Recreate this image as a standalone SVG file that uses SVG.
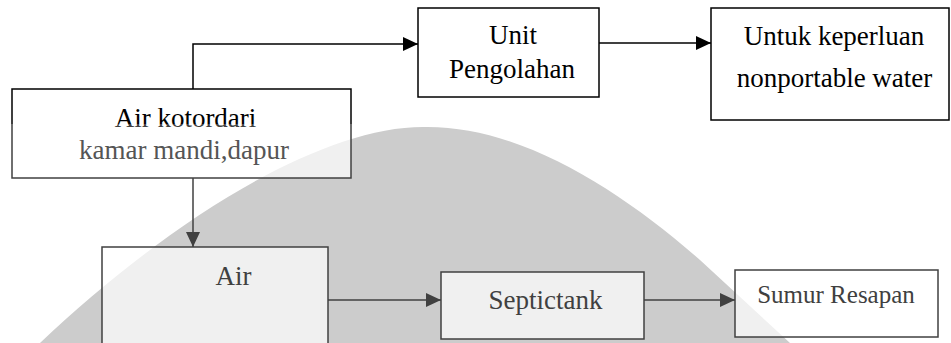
<svg xmlns="http://www.w3.org/2000/svg" width="951" height="343" viewBox="0 0 951 343">
  <defs>
    <linearGradient id="split" gradientUnits="userSpaceOnUse" x1="0" y1="0" x2="0" y2="343">
      <stop offset="0.3615" stop-color="#000"/>
      <stop offset="0.3615" stop-color="#404040"/>
    </linearGradient>
    <marker id="ahBlack" markerUnits="userSpaceOnUse" markerWidth="15" markerHeight="14" refX="15" refY="7" orient="auto">
      <path d="M0,0 L15,7 L0,14 Z" fill="#000"/>
    </marker>
    <marker id="ahGray" markerUnits="userSpaceOnUse" markerWidth="15" markerHeight="14" refX="15" refY="7" orient="auto">
      <path d="M0,0 L15,7 L0,14 Z" fill="#404040"/>
    </marker>
  </defs>
  <style>
    .box { fill: #fff; fill-opacity: 0.7; stroke-width: 1.5; }
    .top { stroke: #000; }
    .low { stroke: #404040; }
    .split { stroke: url(#split); }
    .t { font-family: 'Liberation Serif', 'DejaVu Serif', serif; font-size: 27px; text-anchor: middle; }
    .tb { fill: #000; }
    .tg { fill: #404040; }
    .conn { fill: none; stroke-width: 1.5; }
  </style>
  <rect x="0" y="0" width="951" height="343" fill="#fff"/>
  <path id="watermark" d="M40,343 C170,220 320,127 423,127 C520,125 620,190 700,260 L790,343 Z" fill="#ccc"/>

  <g id="connectors">
    <path class="conn top" d="M193,89 V44 H418" marker-end="url(#ahBlack)"/>
    <path class="conn top" d="M599,43 H711" marker-end="url(#ahBlack)"/>
    <path class="conn low" d="M193,178 V247" marker-end="url(#ahGray)"/>
    <path class="conn low" d="M328,300 H441" marker-end="url(#ahGray)"/>
    <path class="conn low" d="M644,300 H735" marker-end="url(#ahGray)"/>
  </g>

  <g id="air-kotor">
    <rect class="box split" x="12" y="89" width="339" height="89"/>
    <text class="t" x="185.5" y="127" fill="url(#split)">Air kotordari</text>
    <text class="t" x="184" y="159" fill="#555">kamar mandi,dapur</text>
  </g>
  <g id="unit-pengolahan">
    <rect class="box top" x="418" y="8" width="181" height="89"/>
    <text class="t tb" x="513" y="44">Unit</text>
    <text class="t tb" x="512" y="78">Pengolahan</text>
  </g>
  <g id="nonportable">
    <rect class="box top" x="711" y="8" width="238" height="112"/>
    <text class="t tb" x="834" y="45">Untuk keperluan</text>
    <text class="t tb" x="834.5" y="87">nonportable water</text>
  </g>
  <g id="air">
    <rect class="box low" x="102" y="247" width="226" height="110"/>
    <text class="t tg" x="233.5" y="285">Air</text>
  </g>
  <g id="septictank">
    <rect class="box low" x="441" y="272" width="203" height="67"/>
    <text class="t tg" x="545.5" y="309">Septictank</text>
  </g>
  <g id="sumur-resapan">
    <rect class="box low" x="735" y="270" width="203" height="67"/>
    <text class="t tg" x="836" y="303" style="font-size:25px">Sumur Resapan</text>
  </g>
</svg>
